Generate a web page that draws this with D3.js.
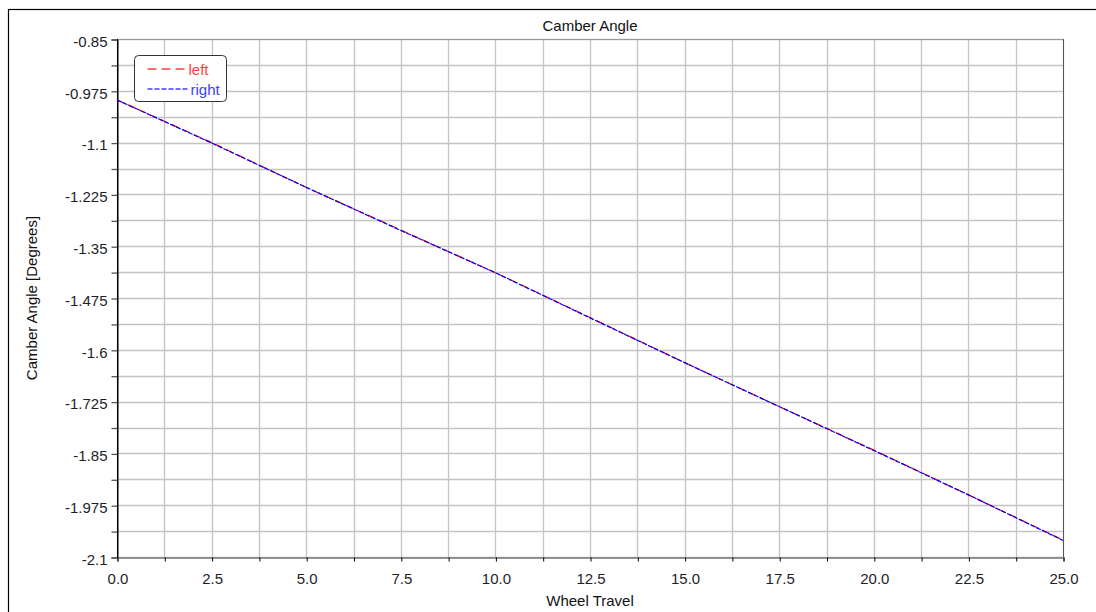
<!DOCTYPE html>
<html>
<head>
<meta charset="utf-8">
<script src="https://cdn.jsdelivr.net/npm/d3@7"></script>
<style>
  body { margin: 0; background: #fff; }
  svg { display: block; font-family: Arial, "Liberation Sans", sans-serif; }
</style>
</head>
<body>
<svg id="chart" width="1096" height="612"></svg>
<script>
// values
var travel = [0, 2.5, 5, 7.5, 10, 12.5, 15, 17.5, 20, 22.5, 25]
var leftCamber = [-0.997, -1.100, -1.208, -1.311, -1.414, -1.522, -1.631, -1.737, -1.842, -1.950, -2.059]
var rightCamber = [-0.997, -1.101, -1.208, -1.312, -1.414, -1.523, -1.631, -1.737, -1.843, -1.950, -2.060]
var yTicks = [-0.85, -0.975, -1.1, -1.225, -1.35, -1.475, -1.6, -1.725, -1.85, -1.975, -2.1]
var xTicks = [0, 2.5, 5, 7.5, 10, 12.5, 15, 17.5, 20, 22.5, 25]

var plotL = 117, plotR = 1063, plotT = 39, plotB = 557

var svg = d3.select('#chart')

// outer frame
svg.append('rect')
  .attr('x', 8.5).attr('y', 9.5)
  .attr('width', 1120).attr('height', 640)
  .attr('fill', 'none').attr('stroke', '#000').attr('stroke-width', 1.2)

var x = d3.scaleLinear().domain([0, 25]).range([plotL, plotR])
var y = d3.scaleLinear().domain([-2.1, -0.85]).range([plotB, plotT])

// grid at every half step
var xGrid = d3.range(0, 21).map(function (i) { return i * 1.25 })
var yGrid = d3.range(0, 21).map(function (i) { return -2.1 + i * 0.0625 })

svg.append('g').selectAll('line')
  .data(xGrid)
  .enter().append('line')
  .attr('x1', function (d) { return Math.round(x(d)) + 0.5 })
  .attr('x2', function (d) { return Math.round(x(d)) + 0.5 })
  .attr('y1', plotT).attr('y2', plotB)
  .attr('stroke', '#c4c4c4').attr('stroke-width', 1.3)

svg.append('g').selectAll('line')
  .data(yGrid)
  .enter().append('line')
  .attr('y1', function (d) { return Math.round(y(d)) + 0.5 })
  .attr('y2', function (d) { return Math.round(y(d)) + 0.5 })
  .attr('x1', plotL).attr('x2', plotR)
  .attr('stroke', '#c4c4c4').attr('stroke-width', 1.3)

// plot borders
svg.append('line')
  .attr('x1', plotL).attr('x2', plotR + 0.5)
  .attr('y1', plotT + 0.5).attr('y2', plotT + 0.5)
  .attr('stroke', '#999')
svg.append('line')
  .attr('x1', plotR + 0.5).attr('x2', plotR + 0.5)
  .attr('y1', plotT).attr('y2', plotB)
  .attr('stroke', '#555')

// axes
var yAxis = d3.axisLeft(y)
  .tickValues(yGrid)
  .tickSize(6)
  .tickPadding(4)
  .tickFormat(function (d) {
    var hit = yTicks.find(function (t) { return Math.abs(t - d) < 1e-6 })
    return hit === undefined ? '' : String(hit)
  })
var gy = svg.append('g')
  .attr('transform', 'translate(' + (plotL + 0.5) + ',0.5)')
  .call(yAxis)
gy.select('.domain').attr('stroke', '#000')
gy.selectAll('.tick line').attr('stroke', '#555').attr('stroke-width', 1.3)
gy.selectAll('text')
  .attr('font-size', '15px').attr('fill', '#1e1e28')
  .attr('dy', '0.45em')

var xAxis = d3.axisBottom(x)
  .tickValues(xGrid)
  .tickSize(4)
  .tickPadding(12)
  .tickFormat(function (d) {
    return xTicks.indexOf(d) >= 0 ? d3.format('.1f')(d) : ''
  })
var gx = svg.append('g')
  .attr('transform', 'translate(0.5,' + (plotB + 0.5) + ')')
  .call(xAxis)
gx.select('.domain').attr('stroke', '#777').attr('stroke-width', 1.5)
gx.selectAll('.tick line').attr('stroke', '#000')
gx.selectAll('text')
  .attr('font-size', '15px').attr('fill', '#1e1e28')
svg.append('line')
  .attr('x1', plotL + 0.5).attr('x2', plotL + 0.5)
  .attr('y1', plotT).attr('y2', plotB + 1)
  .attr('stroke', '#000')

// series
var line = d3.line()
  .x(function (d) { return x(d[0]) })
  .y(function (d) { return y(d[1]) })

svg.append('path')
  .datum(d3.zip(travel, leftCamber))
  .attr('d', line)
  .attr('fill', 'none')
  .attr('stroke', '#ff0000')
  .attr('stroke-width', 1.2)
  .attr('stroke-dasharray', '8, 4')

svg.append('path')
  .datum(d3.zip(travel, rightCamber))
  .attr('d', line)
  .attr('fill', 'none')
  .attr('stroke', '#0000ff')
  .attr('stroke-width', 1.2)
  .attr('stroke-dasharray', '5, 1.5')

// titles
svg.append('text')
  .attr('x', (plotL + plotR) / 2).attr('y', 31)
  .attr('text-anchor', 'middle')
  .attr('font-size', '15px').attr('fill', '#111')
  .text('Camber Angle')

svg.append('text')
  .attr('x', (plotL + plotR) / 2).attr('y', 606)
  .attr('text-anchor', 'middle')
  .attr('font-size', '15px').attr('fill', '#111')
  .text('Wheel Travel')

svg.append('text')
  .attr('transform', 'translate(37,' + ((plotT + plotB) / 2) + ') rotate(-90)')
  .attr('text-anchor', 'middle')
  .attr('font-size', '15px').attr('fill', '#111')
  .text('Camber Angle [Degrees]')

// legend
var legend = svg.append('g').attr('transform', 'translate(134.5,55.5)')
legend.append('rect')
  .attr('width', 92).attr('height', 46)
  .attr('rx', 4).attr('ry', 4)
  .attr('fill', '#fff').attr('stroke', '#333')

var items = [
  { name: 'left', color: '#ff4040', dash: '9, 5' },
  { name: 'right', color: '#4040ff', dash: '5, 2' }
]
items.forEach(function (d, i) {
  var yy = 13.5 + i * 20
  legend.append('line')
    .attr('x1', 13).attr('x2', 54)
    .attr('y1', yy).attr('y2', yy)
    .attr('stroke', d.color)
    .attr('stroke-width', 1.5)
    .attr('stroke-dasharray', d.dash)
  legend.append('text')
    .attr('x', i === 0 ? 54 : 56).attr('y', yy + 5.5)
    .attr('font-size', '15px').attr('fill', d.color)
    .text(d.name)
})
</script>
</body>
</html>
